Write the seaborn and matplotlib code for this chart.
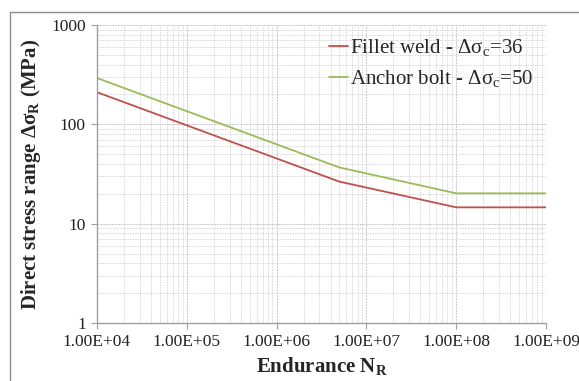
import numpy as np
import pandas as pd
import matplotlib
matplotlib.use("Agg")
import matplotlib.pyplot as plt
import matplotlib.ticker as mticker
import seaborn as sns

# Data (S-N curves)
endurance = [1e4, 5e6, 1e8, 1e9]
fillet_weld = [210.5, 26.5, 14.6, 14.6]
anchor_bolt = [292.4, 36.8, 20.2, 20.2]
series_names = ["Fillet weld - Δσ$_\\mathregular{c}$=36", "Anchor bolt - Δσ$_\\mathregular{c}$=50"]
colors = ["#C0504D", "#9BBB59"]
x_ticks = [1e4, 1e5, 1e6, 1e7, 1e8, 1e9]
x_tick_labels = ["1.00E+04", "1.00E+05", "1.00E+06", "1.00E+07", "1.00E+08", "1.00E+09"]
y_ticks = [1, 10, 100, 1000]
y_tick_labels = ["1", "10", "100", "1000"]

df = pd.DataFrame({
    "N": endurance * 2,
    "S": fillet_weld + anchor_bolt,
    "series": [series_names[0]] * len(endurance) + [series_names[1]] * len(endurance),
})

sns.set_style("white")
plt.rcParams["font.family"] = ["Liberation Serif", "DejaVu Serif"]
plt.rcParams["mathtext.fontset"] = "custom"
plt.rcParams["mathtext.rm"] = "Liberation Serif"

fig = plt.figure(figsize=(5.79, 3.81), dpi=100)
ax = fig.add_axes([97 / 579, 1 - 323 / 381, (546 - 97) / 579, (323 - 25) / 381])

sns.lineplot(data=df, x="N", y="S", hue="series", palette=colors, ax=ax,
             linewidth=1.3, legend=True)

ax.set_xscale("log")
ax.set_yscale("log")
ax.set_xlim(1e4, 1e9)
ax.set_ylim(1, 1000)

ax.xaxis.set_major_locator(mticker.FixedLocator(x_ticks))
ax.xaxis.set_major_formatter(mticker.FixedFormatter(x_tick_labels))
ax.yaxis.set_major_locator(mticker.FixedLocator(y_ticks))
ax.yaxis.set_major_formatter(mticker.FixedFormatter(y_tick_labels))
ax.xaxis.set_minor_locator(mticker.LogLocator(base=10, subs=np.arange(2, 10)))
ax.yaxis.set_minor_locator(mticker.LogLocator(base=10, subs=np.arange(2, 10)))
ax.xaxis.set_minor_formatter(mticker.NullFormatter())
ax.yaxis.set_minor_formatter(mticker.NullFormatter())

ax.grid(True, which="major", color="#C8C8C8", linestyle=(0, (2, 1)), linewidth=0.7)
ax.grid(True, which="minor", color="#D8D8D8", linestyle=(0, (2, 1)), linewidth=0.6)

for s in ["top", "right"]:
    ax.spines[s].set_visible(False)
for s in ["left", "bottom"]:
    ax.spines[s].set_color("#A0A0A0")
    ax.spines[s].set_linewidth(1.0)

ax.tick_params(axis="both", which="major", direction="out", length=4, width=0.8,
               color="#A0A0A0", labelsize=12.5, labelcolor="#222222", pad=4)
ax.tick_params(axis="both", which="minor", length=0)
ax.tick_params(axis="x", which="major", bottom=True)
ax.tick_params(axis="y", which="major", left=True)

ax.set_xlabel("Endurance N$_\\mathregular{R}$", fontsize=15, fontweight="bold", labelpad=4)
ax.set_ylabel("Direct stress range Δσ$_\\mathregular{R}$ (MPa)", fontsize=15,
              fontweight="bold", labelpad=6)

leg = ax.legend(loc="upper right", bbox_to_anchor=(1.0, 1.0), frameon=False,
                fontsize=15, handlelength=0.9, handletextpad=0.1,
                labelspacing=0.45, borderaxespad=0.2)
for h in leg.get_lines():
    h.set_linewidth(1.3)

# outer frame like the reference
fig.patches.append(plt.Rectangle((10 / 579, -0.01), 1.0, 1 - 12 / 381 + 0.01,
                                 transform=fig.transFigure, fill=False,
                                 edgecolor="#8C8C8C", linewidth=1.0))

fig.savefig("out.png", dpi=100)
